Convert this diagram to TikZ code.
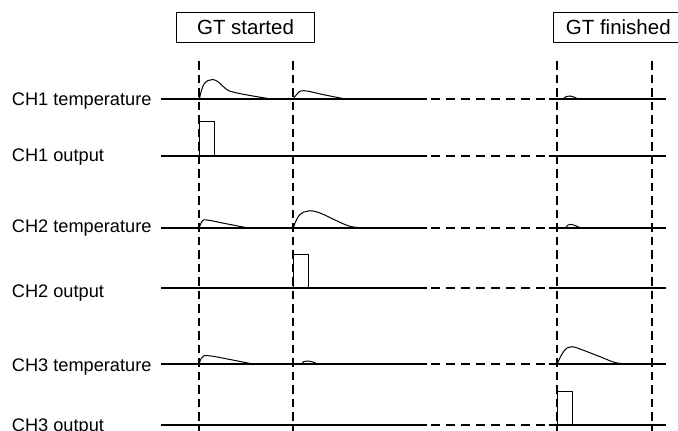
\documentclass[tikz,border=0pt]{standalone}
\usepackage{fontspec}
\setmainfont{Liberation Sans}
\usetikzlibrary{positioning}

\begin{document}
\begin{tikzpicture}[
    x = 1pt, y = -1pt,
    chlabel/.style = {anchor=base west, inner sep=0pt, font=\fontsize{18.2}{20}\selectfont},
    eventbox/.style = {rectangle, draw, line width=0.8pt, minimum height=30pt, inner sep=0pt, font=\fontsize{20.5}{24}\selectfont},
    axisline/.style = {line width=2pt},
    gapline/.style = {line width=2pt, dash pattern=on 9pt off 6pt},
    marker/.style = {line width=2pt, dash pattern=on 8.5pt off 5pt},
    signal/.style = {line width=1pt, smooth, tension=0.7},
    pulse/.style = {line width=0.9pt}
]
\useasboundingbox (0,0) rectangle (678,431);

% Event boxes
\node [eventbox, minimum width=137.6pt] (gtstart) at (245.5,27.3) {GT started};
\node [eventbox, minimum width=130pt] (gtend) at (618.3,27.3) {GT finished};

% Channel labels
\node [chlabel] (ch1temp) at (11.7,105.5) {CH1 temperature};
\node [chlabel] (ch1out) at (11.7,161.5) {CH1 output};
\node [chlabel] (ch2temp) at (11.7,232.8) {CH2 temperature};
\node [chlabel] (ch2out) at (11.7,297.8) {CH2 output};
\node [chlabel] (ch3temp) at (11.7,371.5) {CH3 temperature};
\node [chlabel] (ch3out) at (11.7,431.5) {CH3 output};

% Time markers
\coordinate (t1) at (199.3,61);
\coordinate (t2) at (293.3,61);
\coordinate (t3) at (557.3,61);
\coordinate (t4) at (651.7,61);
\draw [marker] (t1) -- (t1 |- 0,431);
\draw [marker] (t2) -- (t2 |- 0,431);
\draw [marker] (t3) -- (t3 |- 0,431);
\draw [marker] (t4) -- (t4 |- 0,431);

% Channel lines
\foreach \row in {99.3,155.5,227.7,288.3,363.8,424.5} {
    \draw [axisline] (161,\row) -- (427,\row);
    \draw [gapline] (431,\row) -- (549,\row);
    \draw [axisline] (549,\row) -- (666,\row);
}

% CH1
\draw [signal] plot coordinates {(199.3,99.3) (203,86) (208,80.5) (213,79.5) (219,82.5) (226,89) (233,92) (250,95.5) (273,99.3)};
\draw [signal] plot coordinates {(293.3,99.3) (297,94) (304,90.7) (325,95) (347,99.3)};
\draw [signal] plot coordinates {(563,99.3) (566,96.6) (570,96) (574,97) (578.3,99.3)};
\draw [pulse] (199.3,155.5) |- (214.3,121.7) -- (214.3,155.5);

% CH2
\draw [signal] plot coordinates {(199.3,227.7) (202,221.5) (206.7,220) (225,223.5) (246.7,227.7)};
\draw [signal] plot coordinates {(293.3,227.7) (298,217) (304,212) (310,210.7) (320,213) (335,220) (350,226.3) (363,227.7)};
\draw [signal] plot coordinates {(565.7,227.7) (568,225) (571,224.3) (575,225.5) (580,227.7)};
\draw [pulse] (293.3,288.3) |- (308.3,254) -- (308.3,288.3);

% CH3
\draw [signal] plot coordinates {(199.3,363.8) (202,357.5) (208.3,355.7) (230,359.5) (251.7,363.8)};
\draw [signal] plot coordinates {(301.7,363.8) (304,361.5) (308.3,361) (313,362) (316.7,363.8)};
\draw [signal] plot coordinates {(557.3,363.8) (562,354) (567,348) (571.7,346.7) (580,349) (600,356.7) (615,362.5) (626,363.8)};
\draw [pulse] (557.3,424.5) |- (572.7,391) -- (572.7,424.5);

\end{tikzpicture}
\end{document}
